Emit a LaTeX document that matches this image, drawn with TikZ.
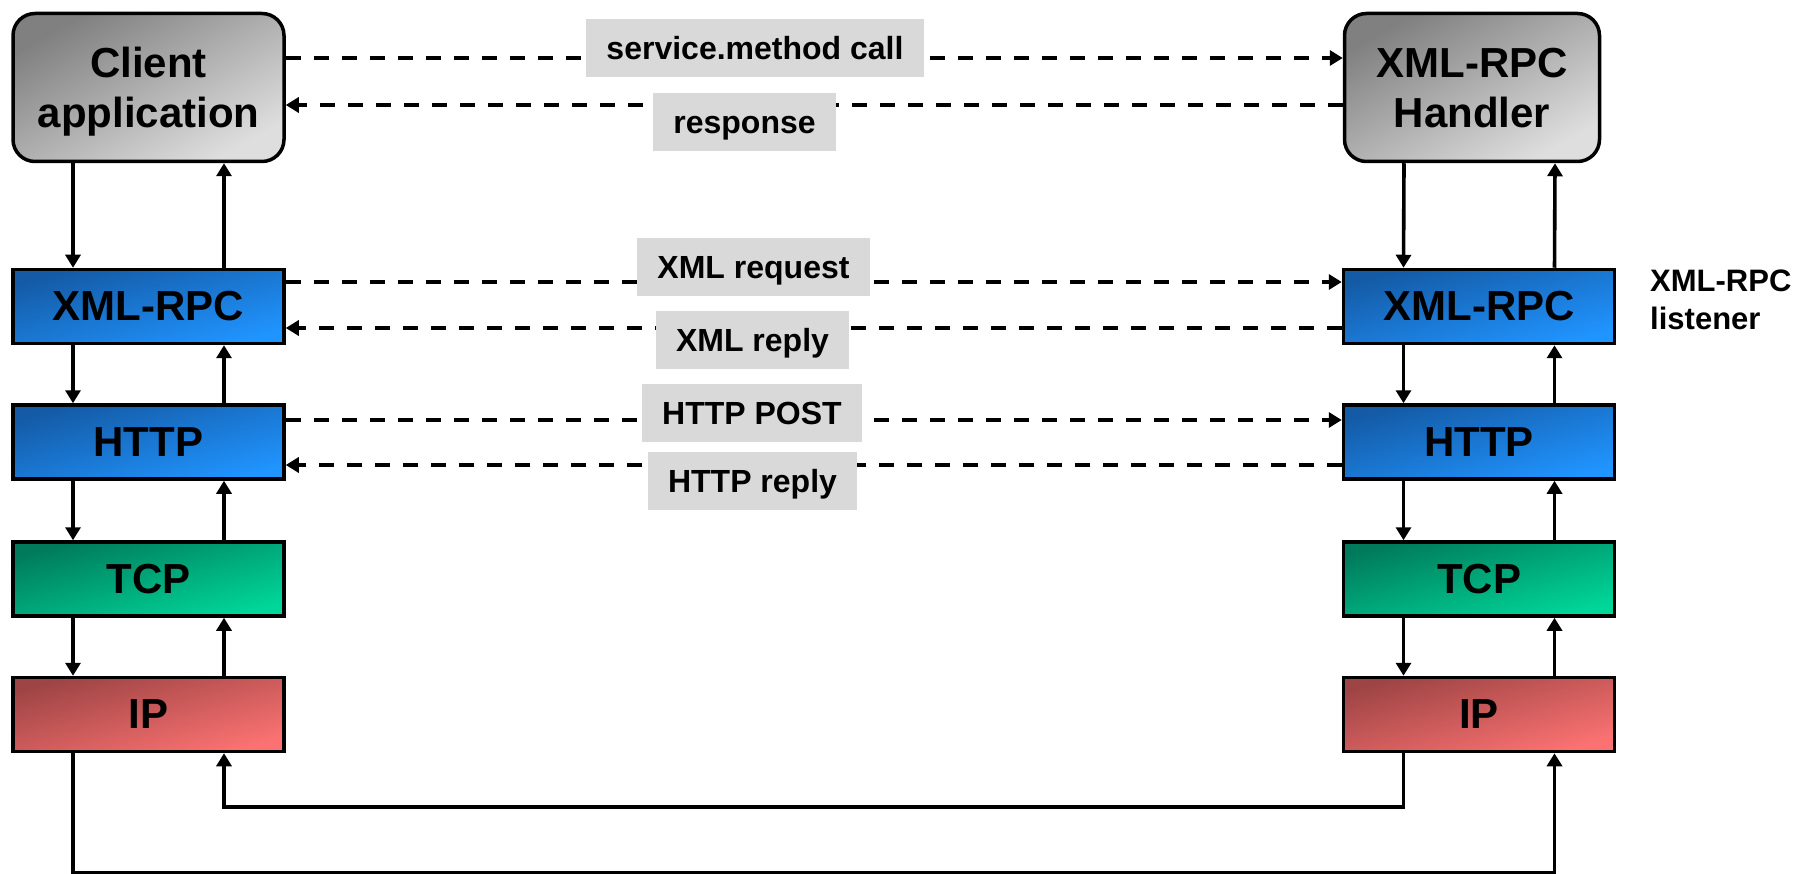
\documentclass[tikz,border=0pt]{standalone}
\usepackage{fontspec}
\setmainfont{Liberation Sans}
\usetikzlibrary{arrows.meta}
\definecolor{grayA}{RGB}{128,128,128}
\definecolor{grayB}{RGB}{222,222,222}
\definecolor{blueA}{RGB}{20,90,165}
\definecolor{blueB}{RGB}{32,148,255}
\definecolor{greenA}{RGB}{0,122,90}
\definecolor{greenB}{RGB}{0,214,152}
\definecolor{redA}{RGB}{158,68,68}
\definecolor{redB}{RGB}{252,114,114}
\definecolor{taggray}{RGB}{217,217,217}

\begin{document}
\begin{tikzpicture}[x=1pt,y=-1pt]
\tikzstyle{every node}=[inner sep=0pt, font=\bfseries]
\tikzstyle{app}=[draw, line width=3.5pt, rounded corners=22pt, minimum height=148pt, align=center, text depth=0pt, font=\bfseries\fontsize{42}{50}\selectfont, top color=grayA, bottom color=grayB, shading angle=29]
\tikzstyle{layer}=[draw, line width=3.5pt, minimum width=271pt, minimum height=74pt, font=\bfseries\fontsize{42}{50}\selectfont]
\tikzstyle{layerblue}=[top color=blueA, bottom color=blueB, shading angle=15]
\tikzstyle{layergreen}=[top color=greenA, bottom color=greenB, shading angle=15]
\tikzstyle{layerred}=[top color=redA, bottom color=redB, shading angle=15]
\tikzstyle{tag}=[fill=taggray, inner xsep=20pt, minimum height=58pt, text height=23pt, text depth=0pt, font=\bfseries\fontsize{32}{38}\selectfont]
\tikzstyle{arr}=[line width=3.6pt, -{Triangle[length=13pt,width=15pt]}]
\tikzstyle{darr}=[arr, dash pattern=on 15pt off 13pt]
\useasboundingbox (0,0) rectangle (1812,874);
% client side
\node (client) [app, minimum width=271pt] at (148.5,87.5) {Client\\application};
\node (xmlL) [layer, layerblue] at (148.5,306.5) {XML-RPC};
\node (httpL) [layer, layerblue] at (148.5,442) {HTTP};
\node (tcpL) [layer, layergreen] at (148.5,579) {TCP};
\node (ipL) [layer, layerred] at (148.5,714.5) {IP};
% server side
\node (hdl) [app, minimum width=255pt] at (1472,87.5) {XML-RPC\\Handler};
\node (xmlR) [layer, layerblue] at (1479,306.5) {XML-RPC};
\node (httpR) [layer, layerblue] at (1479,442) {HTTP};
\node (tcpR) [layer, layergreen] at (1479,579) {TCP};
\node (ipR) [layer, layerred] at (1479,714.5) {IP};
\node (lsnr) [anchor=west, align=left, font=\bfseries\fontsize{31}{38}\selectfont] at (1650,300) {XML-RPC\\listener};
% down and up the stacks
\draw[arr] ([xshift=-75.5pt]client.south) -- ([xshift=-75.5pt]xmlL.north);
\draw[arr] ([xshift=75.5pt]xmlL.north) -- ([xshift=75.5pt]client.south);
\draw[arr] ([xshift=-75.5pt]xmlL.south) -- ([xshift=-75.5pt]httpL.north);
\draw[arr] ([xshift=75.5pt]httpL.north) -- ([xshift=75.5pt]xmlL.south);
\draw[arr] ([xshift=-75.5pt]httpL.south) -- ([xshift=-75.5pt]tcpL.north);
\draw[arr] ([xshift=75.5pt]tcpL.north) -- ([xshift=75.5pt]httpL.south);
\draw[arr] ([xshift=-75.5pt]tcpL.south) -- ([xshift=-75.5pt]ipL.north);
\draw[arr] ([xshift=75.5pt]ipL.north) -- ([xshift=75.5pt]tcpL.south);
\draw[arr] ([xshift=-68pt]hdl.south) -- ([xshift=-75.5pt]xmlR.north);
\draw[arr] ([xshift=75.5pt]xmlR.north) -- ([xshift=83pt]hdl.south);
\draw[arr] ([xshift=-75.5pt]xmlR.south) -- ([xshift=-75.5pt]httpR.north);
\draw[arr] ([xshift=75.5pt]httpR.north) -- ([xshift=75.5pt]xmlR.south);
\draw[arr] ([xshift=-75.5pt]httpR.south) -- ([xshift=-75.5pt]tcpR.north);
\draw[arr] ([xshift=75.5pt]tcpR.north) -- ([xshift=75.5pt]httpR.south);
\draw[arr] ([xshift=-75.5pt]tcpR.south) -- ([xshift=-75.5pt]ipR.north);
\draw[arr] ([xshift=75.5pt]ipR.north) -- ([xshift=75.5pt]tcpR.south);
% the wire
\draw[arr] ([xshift=-75.5pt]ipL.south) -- ++(0,119.5) -| ([xshift=75.5pt]ipR.south);
\draw[arr] ([xshift=-75.5pt]ipR.south) -- ++(0,53.5) -| ([xshift=75.5pt]ipL.south);
% peer messages
\draw[darr] ([yshift=29.5pt]client.east) -- ([yshift=29.5pt]hdl.west);
\draw[darr] ([yshift=-17.5pt]hdl.west) -- ([yshift=-17.5pt]client.east);
\draw[darr] ([yshift=24.5pt]xmlL.east) -- ([yshift=24.5pt]xmlR.west);
\draw[darr] ([yshift=-21.5pt]xmlR.west) -- ([yshift=-21.5pt]xmlL.east);
\draw[darr] ([yshift=22pt]httpL.east) -- ([yshift=22pt]httpR.west);
\draw[darr] ([yshift=-23pt]httpR.west) -- ([yshift=-23pt]httpL.east);
\node (call) [tag] at (755,48.5) {service.method call};
\node (resp) [tag] at (744.5,122) {response};
\node (xreq) [tag] at (753.5,267.5) {XML request};
\node (xrep) [tag] at (752.5,340) {XML reply};
\node (hpost) [tag] at (752,412.5) {HTTP POST};
\node (hrep) [tag] at (752.5,481) {HTTP reply};
\end{tikzpicture}
\end{document}
